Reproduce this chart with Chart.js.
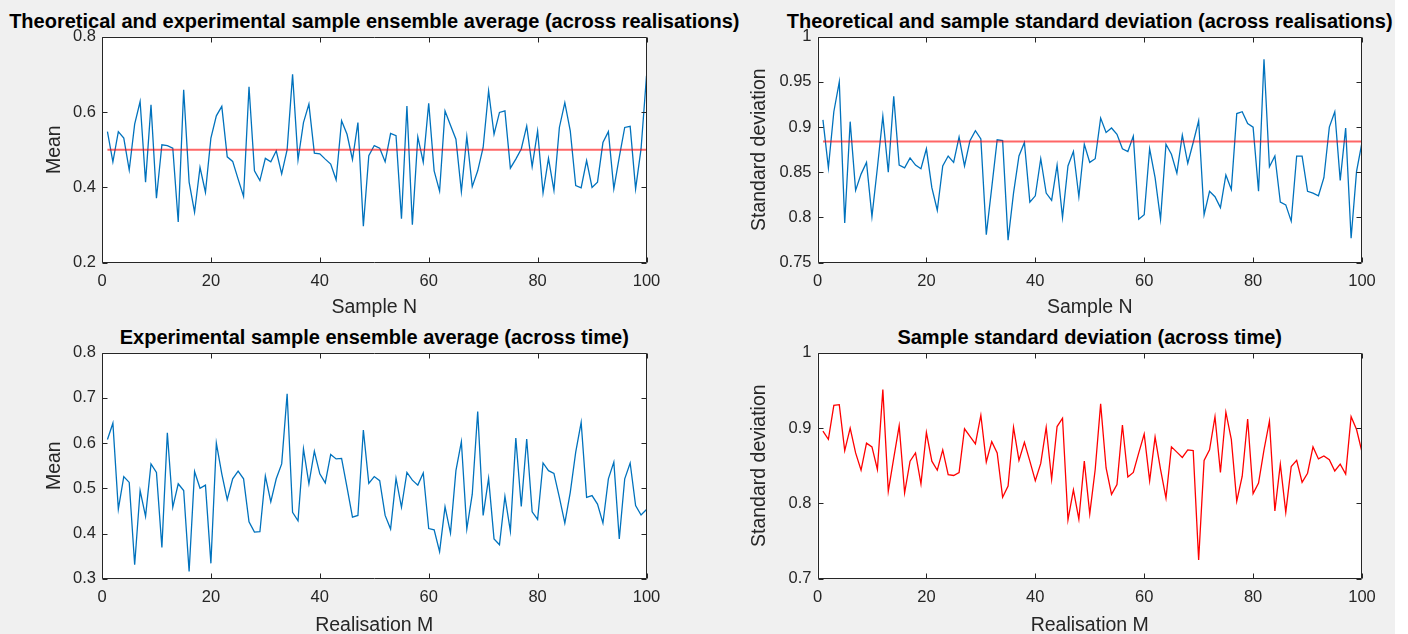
<!DOCTYPE html>
<html lang="en">
<head>
<meta charset="UTF-8" />
<title>Sample ensemble statistics</title>
<script src="https://cdn.jsdelivr.net/npm/chart.js"></script>
<style>
  html, body { margin: 0; padding: 0; background: #fff; overflow: hidden; }
  #figure { position: relative; width: 1395px; height: 634px; background: #f0f0f0; overflow: hidden; }
  .panel { position: absolute; width: 700px; height: 325px; }
  .ttl { position: absolute; width: 800px; text-align: center; white-space: nowrap;
         font: bold 20px "Liberation Sans", Arial, sans-serif; line-height: 22px; color: #000; }
</style>
</head>
<body>
<div id="figure">
  <div class="ttl" style="left:-25.7px; top:9.5px">Theoretical and experimental sample ensemble average (across realisations)</div>
  <div class="ttl" style="left:689.7px; top:9.5px">Theoretical and sample standard deviation (across realisations)</div>
  <div class="ttl" style="left:-25.7px; top:325.5px">Experimental sample ensemble average (across time)</div>
  <div class="ttl" style="left:689.7px; top:325.5px">Sample standard deviation (across time)</div>

  <div class="panel" style="left:0; top:0"><canvas id="meanN"></canvas></div>
  <div class="panel" style="left:700px; top:0"><canvas id="stdN"></canvas></div>
  <div class="panel" style="left:0; top:315.5px"><canvas id="meanM"></canvas></div>
  <div class="panel" style="left:700px; top:315.5px"><canvas id="stdM"></canvas></div>
</div>

<script>
  // mean across realisations, for each sample n = 1..100
  const meanAcrossReal = [
    0.548, 0.468, 0.548, 0.531, 0.446, 0.568, 0.628, 0.414, 0.619, 0.371,
    0.513, 0.511, 0.504, 0.308, 0.659, 0.414, 0.334, 0.453, 0.387, 0.531,
    0.590, 0.615, 0.481, 0.469, 0.422, 0.376, 0.667, 0.444, 0.418, 0.477,
    0.468, 0.497, 0.436, 0.500, 0.700, 0.473, 0.572, 0.621, 0.491, 0.489,
    0.475, 0.462, 0.420, 0.577, 0.541, 0.474, 0.572, 0.297, 0.484, 0.511,
    0.504, 0.468, 0.543, 0.537, 0.317, 0.616, 0.301, 0.534, 0.467, 0.623,
    0.444, 0.390, 0.603, 0.565, 0.528, 0.389, 0.535, 0.402, 0.444, 0.506,
    0.656, 0.541, 0.599, 0.603, 0.451, 0.475, 0.502, 0.563, 0.455, 0.550,
    0.385, 0.477, 0.392, 0.559, 0.625, 0.550, 0.405, 0.399, 0.471, 0.400,
    0.414, 0.519, 0.548, 0.396, 0.480, 0.559, 0.562, 0.396, 0.502, 0.696
  ];
  // std across realisations, for each sample n = 1..100
  const stdAcrossReal = [
    0.908, 0.855, 0.917, 0.950, 0.794, 0.906, 0.830, 0.848, 0.861, 0.801,
    0.855, 0.912, 0.850, 0.934, 0.858, 0.855, 0.866, 0.858, 0.854, 0.876,
    0.833, 0.808, 0.857, 0.868, 0.861, 0.889, 0.857, 0.885, 0.896, 0.887,
    0.781, 0.833, 0.886, 0.885, 0.775, 0.827, 0.868, 0.883, 0.817, 0.824,
    0.865, 0.827, 0.819, 0.858, 0.800, 0.857, 0.873, 0.823, 0.881, 0.861,
    0.865, 0.910, 0.894, 0.899, 0.892, 0.876, 0.873, 0.890, 0.798, 0.803,
    0.876, 0.844, 0.798, 0.881, 0.870, 0.849, 0.891, 0.860, 0.883, 0.907,
    0.803, 0.829, 0.823, 0.811, 0.847, 0.831, 0.915, 0.917, 0.904, 0.900,
    0.829, 0.975, 0.856, 0.868, 0.817, 0.814, 0.796, 0.868, 0.868, 0.829,
    0.827, 0.824, 0.844, 0.900, 0.917, 0.841, 0.899, 0.777, 0.851, 0.883
  ];
  // mean across time, for each realisation m = 1..100
  const meanAcrossTime = [
    0.608, 0.644, 0.454, 0.526, 0.513, 0.331, 0.495, 0.438, 0.554, 0.535,
    0.369, 0.623, 0.458, 0.510, 0.495, 0.316, 0.537, 0.500, 0.507, 0.334,
    0.600, 0.532, 0.475, 0.521, 0.538, 0.521, 0.426, 0.403, 0.404, 0.527,
    0.470, 0.521, 0.554, 0.709, 0.447, 0.428, 0.587, 0.510, 0.582, 0.532,
    0.512, 0.575, 0.565, 0.566, 0.502, 0.436, 0.440, 0.629, 0.511, 0.526,
    0.517, 0.440, 0.410, 0.522, 0.458, 0.535, 0.518, 0.507, 0.534, 0.411,
    0.408, 0.360, 0.459, 0.401, 0.539, 0.603, 0.410, 0.487, 0.670, 0.440,
    0.522, 0.388, 0.375, 0.482, 0.405, 0.611, 0.460, 0.609, 0.448, 0.431,
    0.556, 0.539, 0.533, 0.480, 0.423, 0.491, 0.580, 0.646, 0.480, 0.484,
    0.465, 0.423, 0.521, 0.558, 0.388, 0.521, 0.556, 0.462, 0.441, 0.453
  ];
  // std across time, for each realisation m = 1..100
  const stdAcrossTime = [
    0.896, 0.885, 0.930, 0.931, 0.870, 0.900, 0.867, 0.844, 0.880, 0.875,
    0.845, 0.951, 0.816, 0.860, 0.903, 0.814, 0.856, 0.867, 0.826, 0.894,
    0.856, 0.844, 0.871, 0.838, 0.837, 0.841, 0.899, 0.889, 0.879, 0.917,
    0.855, 0.882, 0.867, 0.808, 0.823, 0.901, 0.857, 0.881, 0.856, 0.830,
    0.853, 0.901, 0.832, 0.902, 0.913, 0.778, 0.818, 0.779, 0.856, 0.786,
    0.845, 0.932, 0.847, 0.812, 0.825, 0.904, 0.835, 0.841, 0.867, 0.892,
    0.830, 0.888, 0.845, 0.807, 0.875, 0.868, 0.861, 0.871, 0.870, 0.725,
    0.857, 0.871, 0.915, 0.841, 0.921, 0.885, 0.803, 0.836, 0.912, 0.813,
    0.827, 0.871, 0.909, 0.790, 0.852, 0.788, 0.849, 0.857, 0.828, 0.840,
    0.875, 0.859, 0.863, 0.858, 0.843, 0.852, 0.839, 0.915, 0.898, 0.868
  ];
  const theoMean = 0.5;
  const theoStd = 0.884;
  const xTicks = [0, 20, 40, 60, 80, 100];

  const FONT = '"Liberation Sans", Arial, Helvetica, sans-serif';
  const AXIS = '#262626';
  const BLUE = '#0072BD';

  const toPoints = arr => arr.map((v, i) => ({ x: i + 1, y: v }));
  const flatLine = v => [{ x: 1, y: v }, { x: 100, y: v }];
  // matlab style labels: 1, 0.95, 0.9 ...
  const shortNum = v => String(+Number(v).toFixed(3));

  // white plot area, full box and inward ticks like matlab axes
  const axesBox = {
    id: 'axesBox',
    beforeDraw(chart) {
      const { ctx, chartArea: a } = chart;
      ctx.save();
      ctx.fillStyle = '#fff';
      ctx.fillRect(a.left, a.top, a.width, a.height);
      ctx.restore();
    },
    afterDatasetsDraw(chart) {
      const { ctx, chartArea: a, scales: { x, y } } = chart;
      const L = Math.round(a.left) + 0.5, R = Math.round(a.right) - 0.5;
      const T = Math.round(a.top) + 0.5, B = Math.round(a.bottom) - 0.5;
      ctx.save();
      ctx.strokeStyle = AXIS;
      ctx.lineWidth = 1;
      ctx.beginPath();
      ctx.rect(L, T, R - L, B - T);
      x.ticks.forEach(t => {
        const px = Math.round(x.getPixelForValue(t.value)) + 0.5;
        ctx.moveTo(px, B); ctx.lineTo(px, B - 5);
        ctx.moveTo(px, T); ctx.lineTo(px, T + 5);
      });
      y.ticks.forEach(t => {
        const py = Math.round(y.getPixelForValue(t.value)) + 0.5;
        ctx.moveTo(L, py); ctx.lineTo(L + 5, py);
        ctx.moveTo(R, py); ctx.lineTo(R - 5, py);
      });
      ctx.stroke();
      ctx.restore();
    }
  };

  function makePanel(id, p) {
    const datasets = [];
    if (p.theory !== undefined) {
      datasets.push({ data: flatLine(p.theory), borderColor: 'rgba(255,0,0,0.6)', borderWidth: 2 });
    }
    datasets.push({ data: toPoints(p.values), borderColor: p.color, borderWidth: 1.3 });

    return new Chart(document.getElementById(id), {
      type: 'line',
      data: { datasets },
      plugins: [axesBox],
      options: {
        responsive: true,
        maintainAspectRatio: false,
        animation: false,
        events: [],
        elements: { point: { radius: 0 }, line: { tension: 0 } },
        layout: { padding: { top: 36.7, right: p.padRight, bottom: 0, left: 0 } },
        plugins: { legend: { display: false }, tooltip: { enabled: false } },
        scales: {
          x: {
            type: 'linear', min: 0, max: 100,
            afterBuildTicks: s => { s.ticks = xTicks.map(v => ({ value: v })); },
            ticks: { color: AXIS, font: { family: FONT, size: 16.5 }, padding: 9, maxRotation: 0,
                     callback: shortNum },
            grid: { display: false, drawTicks: false },
            border: { display: false },
            title: { display: true, text: p.xLabel, color: AXIS, font: { family: FONT, size: 19.5 },
                     padding: { top: 0, bottom: p.xTitlePad } },
            afterFit: s => { s.height = 325 - 262.7; }
          },
          y: {
            type: 'linear', min: p.yMin, max: p.yMax,
            afterBuildTicks: s => { s.ticks = p.yTicks.map(v => ({ value: v })); },
            ticks: { color: AXIS, font: { family: FONT, size: 16.5 }, padding: 6, callback: shortNum },
            grid: { display: false, drawTicks: false },
            border: { display: false },
            title: { display: true, text: p.yLabel, color: AXIS, font: { family: FONT, size: 19.5 },
                     padding: { top: p.yTitlePad, bottom: 0 } },
            afterFit: s => { s.width = p.yWidth; }
          }
        }
      }
    });
  }

  makePanel('meanN', {
    values: meanAcrossReal, theory: theoMean, color: BLUE,
    yMin: 0.2, yMax: 0.8, yTicks: [0.2, 0.4, 0.6, 0.8],
    xLabel: 'Sample N', yLabel: 'Mean',
    yWidth: 102, padRight: 700 - 646.5, yTitlePad: 43.3, xTitlePad: 5.3
  });
  makePanel('stdN', {
    values: stdAcrossReal, theory: theoStd, color: BLUE,
    yMin: 0.75, yMax: 1, yTicks: [0.75, 0.8, 0.85, 0.9, 0.95, 1],
    xLabel: 'Sample N', yLabel: 'Standard deviation',
    yWidth: 117.5, padRight: 1400 - 1362, yTitlePad: 48.3, xTitlePad: 5.3
  });
  makePanel('meanM', {
    values: meanAcrossTime, color: BLUE,
    yMin: 0.3, yMax: 0.8, yTicks: [0.3, 0.4, 0.5, 0.6, 0.7, 0.8],
    xLabel: 'Realisation M', yLabel: 'Mean',
    yWidth: 102, padRight: 700 - 646.5, yTitlePad: 43.3, xTitlePad: 3.8
  });
  makePanel('stdM', {
    values: stdAcrossTime, color: '#FF0000',
    yMin: 0.7, yMax: 1, yTicks: [0.7, 0.8, 0.9, 1],
    xLabel: 'Realisation M', yLabel: 'Standard deviation',
    yWidth: 117.5, padRight: 1400 - 1362, yTitlePad: 48.3, xTitlePad: 3.8
  });
</script>
</body>
</html>
